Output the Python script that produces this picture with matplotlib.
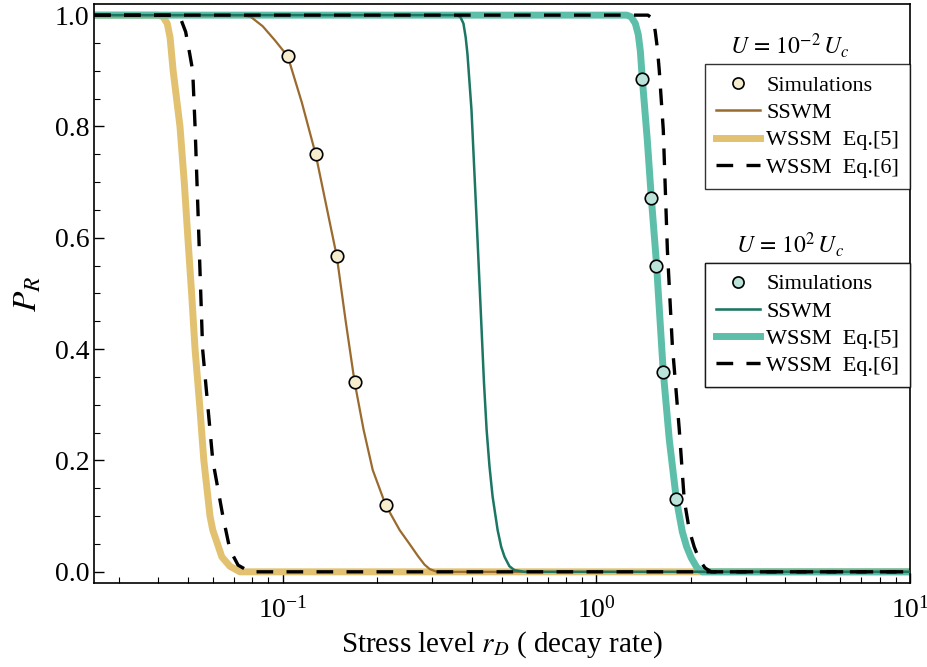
import matplotlib
matplotlib.use("Agg")
import matplotlib.pyplot as plt
from matplotlib.lines import Line2D
from matplotlib.ticker import LogLocator, MultipleLocator, NullFormatter

plt.rcParams["font.family"] = ["Liberation Serif", "DejaVu Serif"]
plt.rcParams["mathtext.fontset"] = "stix"

# U = 1e-2 Uc
lo_sim_x = [0.1037, 0.1273, 0.1486, 0.1694, 0.2128]
lo_sim_y = [0.926, 0.750, 0.567, 0.341, 0.120]
lo_sswm_x = [0.025, 0.074, 0.079, 0.0863, 0.0943, 0.1037, 0.115, 0.1273, 0.1486,
             0.1587, 0.1694, 0.181, 0.1935, 0.2128, 0.2358, 0.2536, 0.27, 0.283,
             0.294, 0.31, 10.0]
lo_sswm_y = [1.0, 1.0, 0.997, 0.98, 0.955, 0.926, 0.843, 0.750, 0.567,
             0.45, 0.341, 0.255, 0.183, 0.120, 0.075, 0.05, 0.028, 0.013,
             0.005, 0.0, 0.0]
lo_eq5_x = [0.025, 0.040, 0.0415, 0.0428, 0.0437, 0.0447, 0.047, 0.0485, 0.0498,
            0.0512, 0.0525, 0.0543, 0.056, 0.0586, 0.0598, 0.0639, 0.0678, 0.073, 10.0]
lo_eq5_y = [1.0, 1.0, 0.997, 0.985, 0.96, 0.9, 0.8, 0.7, 0.6,
            0.5, 0.4, 0.3, 0.2, 0.1, 0.075, 0.027, 0.01, 0.0, 0.0]
lo_eq6_x = [0.025, 0.0455, 0.0475, 0.049, 0.0505, 0.0516, 0.0525, 0.054, 0.0555,
            0.0598, 0.0644, 0.0678, 0.072, 0.0785, 10.0]
lo_eq6_y = [1.0, 1.0, 0.99, 0.97, 0.93, 0.9, 0.8, 0.6, 0.4,
            0.2, 0.1, 0.04, 0.012, 0.0, 0.0]

# U = 1e2 Uc
hi_sim_x = [1.401, 1.497, 1.553, 1.634, 1.798]
hi_sim_y = [0.885, 0.671, 0.550, 0.359, 0.131]
hi_sswm_x = [0.025, 0.358, 0.368, 0.3767, 0.383, 0.388, 0.3996, 0.415, 0.4305,
             0.438, 0.4466, 0.456, 0.4667, 0.4842, 0.497, 0.5094, 0.528, 0.548,
             0.59, 10.0]
hi_sswm_y = [1.0, 1.0, 0.997, 0.985, 0.96, 0.93, 0.83, 0.632, 0.434,
             0.34, 0.255, 0.19, 0.135, 0.075, 0.045, 0.027, 0.01, 0.003,
             0.0, 0.0]
hi_eq5_x = [0.025, 1.25, 1.29, 1.331, 1.36, 1.381, 1.401, 1.453, 1.497, 1.553,
            1.634, 1.708, 1.798, 1.84, 1.879, 1.94, 2.007, 2.09, 2.176, 10.0]
hi_eq5_y = [1.0, 1.0, 0.997, 0.985, 0.965, 0.935, 0.885, 0.776, 0.671, 0.557,
            0.359, 0.237, 0.131, 0.1, 0.072, 0.045, 0.025, 0.008, 0.0, 0.0]
hi_eq6_x = [0.025, 1.46, 1.50, 1.525, 1.541, 1.565, 1.587, 1.634, 1.684, 1.746,
            1.838, 1.906, 1.978, 2.05, 2.128, 2.22, 2.323, 10.0]
hi_eq6_y = [1.0, 1.0, 0.995, 0.985, 0.97, 0.94, 0.9, 0.794, 0.578, 0.408,
            0.255, 0.129, 0.075, 0.045, 0.022, 0.007, 0.0, 0.0]

GOLD = "#E2C271"
BROWN = "#9A6A2E"
TEAL = "#5DBFA9"
DTEAL = "#1C7664"
DASH = (0, (5, 4))

fig = plt.figure(figsize=(9.28, 6.67), dpi=100)
ax = fig.add_axes([0.1013, 0.126, 0.8793, 0.868])

ax.plot(lo_eq5_x, lo_eq5_y, color=GOLD, lw=5, solid_capstyle="butt", zorder=2)
ax.plot(hi_eq5_x, hi_eq5_y, color=TEAL, lw=5, solid_capstyle="butt", zorder=2)
ax.plot(lo_sswm_x, lo_sswm_y, color=BROWN, lw=1.6, zorder=3)
ax.plot(hi_sswm_x, hi_sswm_y, color=DTEAL, lw=1.8, zorder=3)
ax.plot(lo_eq6_x, lo_eq6_y, color="black", lw=2.4, ls=DASH, zorder=4)
ax.plot(hi_eq6_x, hi_eq6_y, color="black", lw=2.4, ls=DASH, zorder=4)
ax.plot(lo_sim_x, lo_sim_y, "o", ms=9, mfc="#F6EDCF", mec="black", mew=1.2, zorder=5)
ax.plot(hi_sim_x, hi_sim_y, "o", ms=9, mfc="#BCE3DA", mec="black", mew=1.2, zorder=5)

ax.set_xscale("log")
ax.set_xlim(0.025, 10)
ax.set_ylim(-0.02, 1.02)
ax.yaxis.set_major_locator(MultipleLocator(0.2))
ax.yaxis.set_minor_locator(MultipleLocator(0.05))
ax.yaxis.set_major_formatter(plt.FuncFormatter(lambda v, p: f"{v:.1f}"))
ax.xaxis.set_major_locator(LogLocator(base=10))
ax.xaxis.set_minor_locator(LogLocator(base=10, subs=range(2, 10)))
ax.xaxis.set_minor_formatter(NullFormatter())
ax.tick_params(which="both", direction="in", top=False, right=False, labelsize=20)
ax.tick_params(which="major", length=7, width=1.0)
ax.tick_params(which="minor", length=4, width=0.8)
ax.tick_params(axis="x", pad=10)
for s in ax.spines.values():
    s.set_linewidth(1.2)

ax.set_xlabel("Stress level $r_D$ ( decay rate)", fontsize=21, labelpad=4)
ax.set_ylabel("$P_R$", fontsize=24, labelpad=8)


def legend_block(colors, fill, title, y_top, y_title):
    handles = [
        Line2D([], [], ls="none", marker="o", ms=8, mfc=fill, mec="black", mew=1.2),
        Line2D([], [], color=colors[0], lw=1.8),
        Line2D([], [], color=colors[1], lw=5),
        Line2D([], [], color="black", lw=2.4, ls=DASH),
    ]
    labels = ["Simulations", "SSWM", "WSSM  Eq.[5]", "WSSM  Eq.[6]"]
    leg = ax.legend(handles, labels, loc="upper right", bbox_to_anchor=(1.0, y_top),
                    fontsize=16, frameon=True, fancybox=False, borderaxespad=0,
                    handlelength=2.0, handletextpad=0.25, labelspacing=0.3,
                    borderpad=0.5, edgecolor="black")
    leg.get_frame().set_linewidth(1.0)
    ax.add_artist(leg)
    ax.text(0.853, y_title, title, transform=ax.transAxes, ha="center", va="center",
            fontsize=17)


legend_block((BROWN, GOLD), "#F6EDCF", "$U\\,=\\,10^{-2}\\,U_c$", 0.896, 0.929)
legend_block((DTEAL, TEAL), "#BCE3DA", "$U\\,=\\,10^{2}\\,U_c$", 0.553, 0.584)

fig.savefig("out.png", dpi=100)
